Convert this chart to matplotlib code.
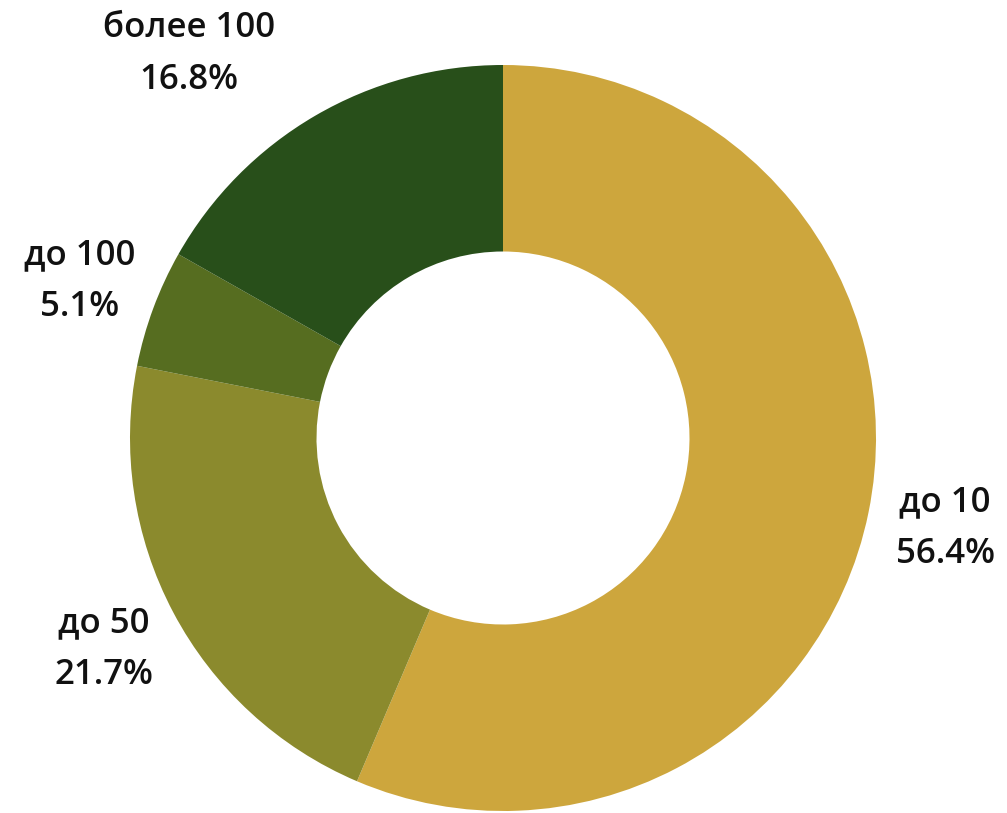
import matplotlib
matplotlib.use("Agg")
import matplotlib.pyplot as plt
import numpy as np

categories = ["до 10", "до 50", "до 100", "более 100"]
values = [56.4, 21.7, 5.1, 16.8]
colors = ["#CDA63D", "#8B8A2D", "#566D20", "#284F1A"]

plt.rcParams['font.family'] = ['Open Sans', 'DejaVu Sans']

fig = plt.figure(figsize=(10.07, 8.13), dpi=100)
ax = fig.add_axes([0, 0, 1, 1])
R = 373.0

wedges, _ = ax.pie(values, colors=colors, startangle=90, counterclock=False,
                   radius=1.0, wedgeprops=dict(width=0.5, edgecolor='none'))
ax.set_aspect('equal', adjustable='box')
ax.set_xlim(-503 / R, (1007 - 503) / R)
ax.set_ylim(-375 / R, (813 - 375) / R)
ax.axis('off')

label_dist = [1.21, 1.21, 1.21, 1.33]
angle_shift = [0, 0, 0, 9]
for w, cat, v, d, sh in zip(wedges, categories, values, label_dist, angle_shift):
    ang = np.deg2rad((w.theta1 + w.theta2) / 2 + sh)
    x, y = d * np.cos(ang), d * np.sin(ang)
    ax.text(x, y, f"{cat}\n{v:.1f}%", ha='center', va='center', fontsize=25,
            fontweight='semibold', linespacing=1.7, color='#111111')

fig.savefig("out.png", dpi=100)
